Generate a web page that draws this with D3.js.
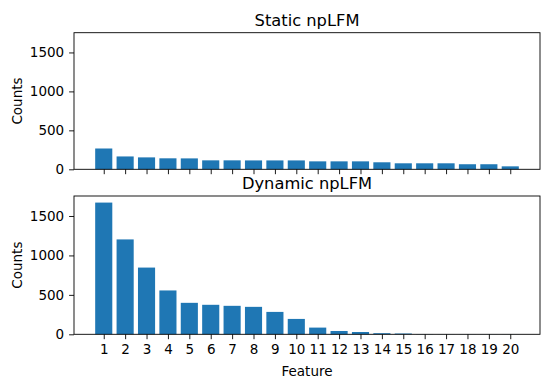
<!DOCTYPE html>
<html><head><meta charset="utf-8">
<script src="https://cdn.jsdelivr.net/npm/d3@7"></script>
<style>body{margin:0;background:#fff}svg{display:block;font-family:"DejaVu Sans",sans-serif}</style>
</head><body><svg id="c" width="552" height="387"></svg>
<script>
const features = d3.range(1, 21);
const staticCounts = [267,165,153,141,140,115,115,114,114,114,102,102,102,90,77,77,77,65,65,38];
const dynamicCounts = [1670,1203,846,556,399,374,361,348,284,195,85,42,29,14,10,2,1,1,1,1];
const yTicks = [0,500,1000,1500];
const titles = ["Static npLFM","Dynamic npLFM"];

const svg = d3.select("#c");
const L = 74, R = 540;
const panels = [{top:32.7,bottom:169.3,data:staticCounts,title:titles[0],xlabels:false},
                {top:196,bottom:334.3,data:dynamicCounts,title:titles[1],xlabels:true}];
const ymax = d3.max(dynamicCounts.concat(staticCounts)) * 1.05;
const x = d3.scaleLinear().domain([0.6-0.99, 20.4+0.99]).range([L, R]);
const bw = x(0.8) - x(0);
const fs = 13.5;

panels.forEach(p => {
  const y = d3.scaleLinear().domain([0, ymax]).range([p.bottom, p.top]);
  const g = svg.append("g");
  g.selectAll("rect").data(p.data).enter().append("rect")
    .attr("x", (d,i) => x(features[i]) - bw/2)
    .attr("width", bw)
    .attr("y", d => y(d))
    .attr("height", d => y(0) - y(d))
    .attr("fill", "#1f77b4");
  // frame
  g.append("rect").attr("x", L).attr("y", p.top).attr("width", R-L).attr("height", p.bottom-p.top)
    .attr("fill","none").attr("stroke","#000").attr("stroke-width",0.9);
  // y axis
  const ya = g.append("g").attr("transform", `translate(${L},0)`)
    .call(d3.axisLeft(y).tickValues(yTicks).tickSize(4.9).tickPadding(4.9).tickFormat(d3.format("d")));
  ya.select(".domain").remove();
  ya.selectAll("line").attr("stroke","#000").attr("stroke-width",0.9);
  ya.selectAll("text").attr("font-size", fs).attr("fill","#000").attr("font-family","DejaVu Sans");
  // x axis
  const xa = g.append("g").attr("transform", `translate(0,${p.bottom})`)
    .call(d3.axisBottom(x).tickValues(features).tickSize(4.9).tickPadding(4.9)
      .tickFormat(p.xlabels ? d3.format("d") : () => ""));
  xa.select(".domain").remove();
  xa.selectAll("line").attr("stroke","#000").attr("stroke-width",0.9);
  xa.selectAll("text").attr("font-size", fs).attr("fill","#000").attr("font-family","DejaVu Sans");
  // title
  g.append("text").attr("x", (L+R)/2).attr("y", p.top - 7).attr("text-anchor","middle")
    .attr("font-size", 16.3).attr("fill","#000").text(p.title);
  // y label
  g.append("text").attr("transform", `translate(22,${(p.top+p.bottom)/2}) rotate(-90)`)
    .attr("text-anchor","middle").attr("font-size", fs).attr("fill","#000").text("Counts");
});
svg.append("text").attr("x",(L+R)/2).attr("y",375.5).attr("text-anchor","middle")
  .attr("font-size", fs).attr("fill","#000").text("Feature");
</script></body></html>
